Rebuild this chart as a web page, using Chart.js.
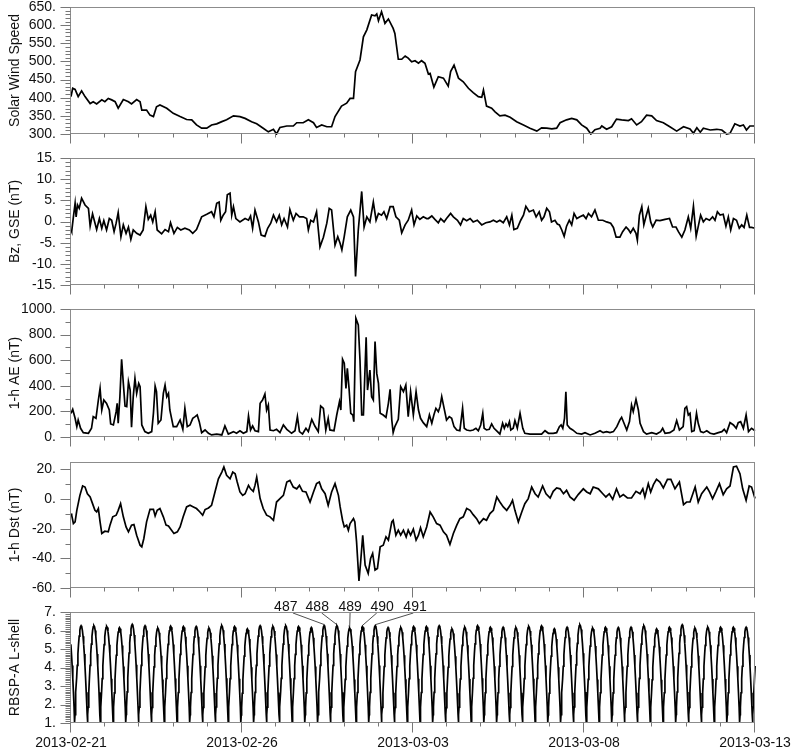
<!DOCTYPE html>
<html>
<head>
<meta charset="utf-8">
<script src="https://cdn.jsdelivr.net/npm/chart.js@4.4.1/dist/chart.umd.min.js"></script>
<style>
  html, body { margin: 0; padding: 0; background: #fff; }
  #wrap { position: relative; width: 794px; height: 755px; overflow: hidden; }
  #wrap canvas { position: absolute; left: 0; }
</style>
</head>
<body>
<div id="wrap">
  <canvas id="p1" width="794" height="150" style="top:0px"></canvas>
  <canvas id="p2" width="794" height="151" style="top:150px"></canvas>
  <canvas id="p3" width="794" height="153" style="top:300px"></canvas>
  <canvas id="p4" width="794" height="150" style="top:454px"></canvas>
  <canvas id="p5" width="794" height="165" style="top:590px"></canvas>
</div>
<script>
// ---- data (time in days since 2013-02-21 00:00) ----
const dayTicks = [0, 5, 10, 15, 20];
const dateLabels = ['2013-02-21', '2013-02-26', '2013-03-03', '2013-03-08', '2013-03-13'];

const swDay = [
  0.00,0.05,0.12,0.21,0.31,0.41,0.56,0.65,0.75,0.90,
  0.99,1.09,1.19,1.29,1.38,1.53,1.68,1.77,1.92,2.02,
  2.07,2.21,2.31,2.41,2.50,2.60,2.80,2.99,3.19,3.38,
  3.53,3.67,3.82,3.97,4.11,4.26,4.41,4.55,4.75,4.94,
  5.09,5.28,5.43,5.62,5.77,5.92,6.01,6.11,6.31,6.50,
  6.60,6.79,6.94,7.09,7.18,7.33,7.48,7.62,7.72,7.91,
  8.06,8.16,8.26,8.32,8.45,8.55,8.65,8.79,8.89,8.94,
  8.99,9.08,9.18,9.28,9.42,9.47,9.57,9.67,9.77,9.86,
  9.96,10.06,10.16,10.25,10.35,10.45,10.50,10.61,10.74,10.89,
  11.03,11.10,11.20,11.33,11.47,11.62,11.76,11.91,12.01,12.06,
  12.15,12.30,12.40,12.54,12.69,12.84,13.03,13.23,13.42,13.62,
  13.76,13.91,14.06,14.20,14.30,14.49,14.64,14.79,14.93,15.08,
  15.20,15.32,15.47,15.52,15.66,15.81,15.95,16.10,16.30,16.39,
  16.54,16.68,16.83,16.98,17.12,17.32,17.51,17.71,17.91,18.10,
  18.20,18.30,18.40,18.49,18.69,18.88,19.03,19.17,19.27,19.41,
  19.56,19.66,19.75,19.85,20.00];
const swSpeed = [
  403,426,423,403,419,403,384,389,383,394,
  389,398,394,389,371,395,389,383,395,389,
  366,366,352,348,375,380,371,357,348,340,
  339,325,316,316,325,328,334,339,350,348,
  343,334,328,316,306,313,300,318,322,322,
  331,331,339,331,318,325,320,320,348,377,
  385,398,398,472,504,568,587,628,626,631,
  612,637,605,617,591,577,506,506,515,509,
  499,502,495,502,495,465,467,429,458,454,
  432,472,490,454,444,426,414,403,401,421,
  377,371,361,350,352,346,334,325,316,308,
  317,316,314,316,331,339,343,339,325,316,
  300,312,316,322,313,320,341,339,337,342,
  325,334,352,350,337,331,320,308,320,314,
  302,317,305,316,311,313,311,300,302,328,
  322,325,311,322,322];

const bzDay = [
  0.00,0.02,0.07,0.12,0.15,0.19,0.24,0.31,0.41,0.51,
  0.56,0.63,0.75,0.83,0.90,0.96,1.04,1.12,1.19,1.26,
  1.32,1.38,1.46,1.53,1.61,1.68,1.75,1.82,1.92,2.02,
  2.11,2.19,2.26,2.33,2.39,2.46,2.52,2.65,2.75,2.85,
  2.91,3.01,3.11,3.21,3.33,3.46,3.56,3.67,3.82,3.97,
  4.11,4.18,4.26,4.33,4.38,4.45,4.52,4.57,4.65,4.70,
  4.75,4.82,4.94,5.09,5.19,5.25,5.31,5.38,5.48,5.56,
  5.67,5.75,5.84,5.92,6.01,6.09,6.16,6.23,6.33,6.40,
  6.50,6.58,6.68,6.79,6.89,6.94,7.01,7.09,7.18,7.28,
  7.38,7.48,7.55,7.62,7.72,7.80,7.87,7.92,7.99,8.08,
  8.18,8.26,8.32,8.40,8.50,8.57,8.65,8.74,8.84,8.92,
  8.99,9.08,9.15,9.23,9.33,9.42,9.50,9.60,9.67,9.77,
  9.86,9.96,10.03,10.11,10.20,10.30,10.40,10.45,10.55,10.64,
  10.74,10.81,10.91,10.98,11.10,11.18,11.30,11.39,11.47,11.57,
  11.67,11.76,11.88,12.01,12.13,12.25,12.35,12.45,12.54,12.64,
  12.74,12.82,12.89,12.95,13.05,13.15,13.23,13.30,13.40,13.52,
  13.60,13.69,13.76,13.83,13.91,13.99,14.05,14.15,14.22,14.28,
  14.35,14.42,14.49,14.57,14.64,14.71,14.79,14.88,14.98,15.06,
  15.13,15.22,15.32,15.42,15.55,15.66,15.78,15.86,15.94,16.05,
  16.13,16.23,16.30,16.36,16.44,16.52,16.56,16.62,16.69,16.75,
  16.81,16.88,16.95,17.01,17.11,17.22,17.37,17.50,17.59,17.69,
  17.76,17.86,17.95,18.05,18.12,18.20,18.28,18.35,18.41,18.49,
  18.57,18.67,18.76,18.83,18.90,18.98,19.07,19.15,19.22,19.29,
  19.37,19.46,19.54,19.61,19.68,19.76,19.84,19.90,20.00];
const bzValue = [
  -2.0,-2.4,1.1,4.3,1.1,3.9,3.1,5.5,3.9,3.1,
  -1.1,1.8,-1.9,0.7,-1.6,0.2,-2.0,0.7,0.3,-2.4,
  -0.4,2.1,-3.6,-0.8,-2.8,-1.3,-4.2,-2.0,-2.8,-3.2,
  -2.0,3.5,0.5,1.5,-0.1,2.3,-2.0,-2.9,-1.9,-2.4,
  -0.3,-2.8,-1.4,-2.0,-1.6,-2.0,-2.8,-1.9,1.1,1.7,
  2.3,1.1,4.3,4.6,0.3,1.5,2.3,6.3,6.7,1.5,
  3.5,0.7,-0.1,0.7,0.3,1.3,-1.6,2.7,-0.1,-3.2,
  -3.5,-1.6,-0.4,1.5,-0.1,1.5,-0.8,0.7,-1.3,2.8,
  0.3,1.9,1.1,1.1,0.7,-2.0,0.3,-0.1,2.3,-6.0,
  -3.7,-0.4,3.1,2.7,-5.6,-3.6,-5.2,-6.7,-3.5,1.1,
  2.7,1.1,-13.0,-2.0,7.1,-1.3,1.1,-0.1,4.6,0.3,
  1.9,1.5,2.3,0.7,3.5,3.5,1.1,0.3,-2.7,-0.8,
  0.3,2.7,-0.8,1.3,0.5,1.1,0.7,0.7,1.3,0.5,
  -0.3,0.7,-0.1,0.7,1.9,1.1,0.3,-0.8,0.7,0.2,
  0.7,-0.1,0.3,-0.8,-0.3,-0.1,0.3,-0.1,0.3,-0.3,
  1.1,-0.8,1.5,-1.9,-1.6,0.3,1.5,3.6,2.3,2.7,
  1.1,2.3,0.3,1.1,3.1,2.3,-0.1,0.3,-0.6,-0.8,
  -2.0,-3.5,-1.1,0.3,-0.8,1.9,0.7,1.1,1.5,0.7,
  1.9,1.1,2.7,0.3,0.3,-0.1,-0.4,-1.4,-3.7,-3.7,
  -2.4,-1.3,-1.9,-2.7,-1.6,-2.8,-4.4,1.5,3.5,-0.8,
  1.1,3.1,-0.1,-1.3,0.3,0.2,0.5,0.7,-1.3,-1.3,
  -2.4,-3.7,-2.0,1.1,-1.6,3.6,-3.5,-0.8,1.5,-0.1,
  0.7,0.3,1.1,0.3,2.3,1.5,1.7,-1.1,1.1,-2.0,
  0.7,0.3,-1.6,-0.8,-1.4,1.5,-1.4,-1.4,-1.6];

const aeDay = [
  0.00,0.05,0.12,0.17,0.21,0.28,0.36,0.51,0.60,0.65,
  0.73,0.80,0.85,0.90,0.96,1.04,1.12,1.16,1.24,1.32,
  1.35,1.38,1.43,1.48,1.53,1.58,1.63,1.68,1.73,1.77,
  1.82,1.87,1.92,1.98,2.02,2.07,2.16,2.26,2.36,2.41,
  2.46,2.50,2.55,2.63,2.70,2.75,2.80,2.85,2.89,2.99,
  3.09,3.19,3.27,3.33,3.40,3.48,3.56,3.63,3.69,3.75,
  3.82,3.92,4.02,4.11,4.26,4.41,4.50,4.60,4.75,4.84,
  4.94,5.04,5.14,5.19,5.25,5.31,5.38,5.48,5.53,5.60,
  5.67,5.72,5.77,5.82,5.92,6.01,6.11,6.21,6.31,6.45,
  6.55,6.62,6.68,6.77,6.87,6.94,7.04,7.13,7.23,7.30,
  7.38,7.45,7.52,7.57,7.69,7.77,7.85,7.89,7.94,7.99,
  8.04,8.08,8.13,8.18,8.24,8.27,8.33,8.40,8.45,8.50,
  8.55,8.63,8.67,8.74,8.79,8.84,8.89,8.94,8.99,9.04,
  9.13,9.21,9.28,9.33,9.38,9.42,9.47,9.57,9.64,9.72,
  9.79,9.86,9.93,10.01,10.09,10.16,10.22,10.30,10.40,10.48,
  10.55,10.61,10.67,10.74,10.79,10.84,10.91,10.98,11.06,11.13,
  11.20,11.28,11.37,11.45,11.50,11.57,11.67,11.76,11.84,11.91,
  11.98,12.04,12.08,12.15,12.23,12.30,12.37,12.47,12.54,12.62,
  12.67,12.72,12.77,12.82,12.86,12.93,12.98,13.05,13.13,13.21,
  13.27,13.42,13.62,13.76,13.86,13.96,14.10,14.20,14.28,14.33,
  14.38,14.43,14.47,14.51,14.59,14.67,14.79,14.93,15.03,15.18,
  15.32,15.47,15.56,15.66,15.76,15.86,15.96,16.05,16.10,16.17,
  16.25,16.33,16.39,16.44,16.52,16.59,16.64,16.74,16.83,16.98,
  17.12,17.24,17.30,17.37,17.51,17.63,17.71,17.79,17.90,17.95,
  18.00,18.05,18.10,18.15,18.22,18.29,18.34,18.41,18.49,18.59,
  18.69,18.80,18.93,19.03,19.10,19.17,19.27,19.37,19.45,19.51,
  19.58,19.66,19.74,19.81,19.90,20.00];
const aeValue = [
  185,216,146,81,133,68,34,29,68,159,
  146,289,380,211,289,263,211,102,94,198,
  263,107,315,607,419,242,237,432,367,76,
  315,458,341,419,393,94,42,29,42,185,
  398,354,107,133,341,406,315,341,211,81,
  81,133,60,224,81,94,146,159,172,120,
  34,55,29,16,23,16,86,23,42,29,
  49,29,42,164,55,86,49,42,263,289,
  336,211,250,55,49,60,34,94,60,29,
  49,159,42,23,68,42,138,86,42,242,
  224,55,146,55,49,172,276,211,607,576,
  380,536,380,185,172,120,927,875,602,172,
  172,779,367,523,315,289,745,497,419,185,
  172,154,263,372,133,34,81,138,393,354,
  406,159,354,172,354,211,146,112,81,172,
  107,172,224,198,237,315,224,133,159,146,
  81,55,49,224,68,55,49,55,68,49,
  94,185,68,55,60,102,68,42,23,107,
  68,102,81,120,55,68,128,68,185,68,
  29,23,23,23,49,29,29,34,81,94,
  68,146,354,94,68,55,29,23,34,16,
  29,49,34,42,34,42,81,133,154,107,
  55,120,250,198,294,211,107,42,23,34,
  23,42,68,29,34,55,128,55,81,224,
  237,172,185,42,49,185,107,42,34,49,
  29,23,34,42,60,34,112,94,68,112,
  120,68,172,42,68,49];

const dstDay = [
  0.00,0.02,0.07,0.12,0.17,0.26,0.34,0.41,0.48,0.56,
  0.63,0.70,0.75,0.80,0.85,0.90,0.99,1.09,1.14,1.22,
  1.32,1.38,1.45,1.53,1.61,1.68,1.77,1.84,1.92,2.02,
  2.07,2.13,2.21,2.31,2.41,2.46,2.52,2.60,2.70,2.78,
  2.85,2.94,3.01,3.11,3.19,3.28,3.38,3.48,3.58,3.67,
  3.77,3.85,3.92,4.02,4.11,4.21,4.31,4.41,4.47,4.55,
  4.65,4.73,4.80,4.86,4.94,5.02,5.09,5.19,5.25,5.33,
  5.38,5.43,5.53,5.62,5.72,5.82,5.92,6.01,6.11,6.21,
  6.31,6.40,6.50,6.60,6.68,6.77,6.87,6.99,7.09,7.18,
  7.26,7.33,7.43,7.52,7.62,7.72,7.82,7.87,7.94,7.99,
  8.06,8.11,8.16,8.26,8.30,8.35,8.42,8.47,8.53,8.60,
  8.69,8.76,8.82,8.89,8.96,9.04,9.13,9.21,9.28,9.38,
  9.42,9.50,9.57,9.64,9.72,9.80,9.86,9.93,10.01,10.09,
  10.16,10.22,10.30,10.40,10.50,10.59,10.69,10.79,10.89,10.98,
  11.08,11.18,11.28,11.37,11.47,11.57,11.67,11.76,11.86,11.94,
  12.06,12.15,12.25,12.35,12.45,12.54,12.64,12.74,12.84,12.91,
  12.98,13.08,13.18,13.27,13.37,13.47,13.57,13.66,13.79,13.89,
  14.01,14.10,14.20,14.30,14.40,14.49,14.59,14.71,14.83,14.98,
  15.08,15.18,15.27,15.42,15.55,15.64,15.74,15.84,15.95,16.05,
  16.15,16.27,16.39,16.52,16.64,16.72,16.78,16.88,16.95,17.03,
  17.12,17.22,17.32,17.44,17.54,17.66,17.79,17.91,18.00,18.10,
  18.20,18.25,18.34,18.44,18.59,18.67,18.76,18.86,18.96,19.07,
  19.17,19.27,19.37,19.46,19.56,19.64,19.74,19.83,19.90,20.00];
const dstValue = [
  -9.8,-10.9,-16.5,-15.4,-7.6,2.5,8.8,8.1,3.6,1.4,
  -3.1,-7.6,-8.7,-6.4,-15.4,-23.2,-21.7,-22.1,-17.6,-12.0,
  -10.9,-7.6,-3.1,-12.0,-18.8,-22.1,-17.6,-17.2,-24.4,-31.1,
  -32.2,-26.6,-15.4,-6.9,-6.9,-11.4,-7.6,-6.4,-12.0,-17.6,
  -18.1,-21.0,-23.2,-22.1,-18.8,-12.0,-5.3,-4.2,-5.3,-6.4,
  -8.7,-10.9,-7.1,-6.0,-4.2,4.8,13.7,18.2,21.6,16.0,
  13.7,18.2,17.1,11.5,4.8,2.5,3.6,9.2,6.9,5.2,
  9.2,14.8,0.3,-6.4,-10.9,-12.0,-14.3,-2.0,0.3,2.5,
  11.5,12.6,8.1,6.9,9.2,5.2,4.8,-2.0,4.8,10.4,
  11.5,6.9,3.6,-4.2,4.8,10.4,2.5,-5.3,-14.3,-18.8,
  -17.6,-21.0,-16.5,-13.2,-15.4,-28.9,-55.3,-42.3,-24.4,-44.5,
  -50.1,-40.1,-36.7,-47.9,-46.8,-32.2,-31.1,-25.5,-27.7,-15.4,
  -14.3,-24.4,-21.0,-24.4,-21.0,-25.5,-21.0,-24.4,-20.3,-27.7,
  -24.4,-19.4,-25.5,-18.8,-8.7,-12.0,-16.5,-17.6,-22.1,-24.4,
  -30.6,-23.2,-17.6,-13.2,-12.0,-6.4,-7.6,-10.5,-13.2,-16.5,
  -13.2,-14.3,-9.8,-7.6,1.4,-2.0,-5.3,-7.6,-4.2,-0.8,
  -7.6,-15.4,-8.7,-3.1,0.3,8.1,3.6,1.4,8.8,3.6,
  0.7,5.2,7.5,6.9,3.6,5.9,1.4,-0.8,3.0,6.9,
  4.8,3.6,8.1,6.9,3.6,1.4,3.6,-0.2,6.9,1.4,
  3.0,0.7,0.7,5.2,3.6,6.9,1.4,10.4,4.8,9.7,
  13.3,11.5,7.5,13.3,13.3,6.9,11.5,-3.8,-2.0,-2.0,
  4.8,8.1,-2.0,3.6,8.1,4.8,0.3,5.2,10.4,3.0,
  6.9,8.8,21.6,22.2,17.1,6.9,-0.8,8.8,8.1,0.3];

// RBSP-A orbit: perigee times (hours) and apogee L of each orbit in between
const lPerigeeHour = [
  -6.38,2.6,11.58,20.55,29.53,38.5,47.48,56.45,65.43,74.4,
  83.38,92.35,101.33,110.3,119.28,128.25,137.23,146.2,155.18,164.15,
  173.13,182.1,191.08,200.05,209.03,218.0,226.98,235.95,244.93,253.9,
  262.88,271.85,280.83,289.8,298.78,307.75,316.73,325.7,334.68,343.65,
  352.63,361.6,370.58,379.55,388.53,397.5,406.48,415.45,424.43,433.4,
  442.38,451.35,460.33,469.3,478.28,487.25];
const lApogee = [
  6.24,6.26,6.26,6.22,6.16,6.33,6.26,6.13,6.24,6.22,
  6.22,6.13,6.27,6.22,6.09,6.26,6.22,6.26,6.22,6.16,
  6.27,6.26,6.13,6.22,6.26,6.16,6.16,6.22,6.22,6.26,
  6.09,6.18,6.27,6.18,6.18,6.16,6.22,6.26,6.09,6.18,
  6.31,6.13,6.18,6.16,6.18,6.26,6.09,6.18,6.31,6.13,
  6.18,6.18,6.18,6.18,6.20];
const lPerigeeL = 1.05;
// shape of one pass, perigee -> apogee -> perigee
const orbitPhase = [0,0.025,0.05,0.1,0.15,0.2,0.25,0.3,0.35,0.4,0.45,0.5,
                    0.55,0.6,0.65,0.7,0.75,0.8,0.85,0.9,0.95,0.975,1];
const orbitShape = [0,0.078,0.156,0.309,0.454,0.588,0.707,0.809,0.891,0.951,0.988,1,
                    0.988,0.951,0.891,0.809,0.707,0.588,0.454,0.309,0.156,0.078,0];
const orbitNumbers = [487, 488, 489, 490, 491];
const orbitNumberOffset = 467;   // orbit number - index in lApogee

// ---- build points ----
function pairs(xs, ys) {
  const n = Math.min(xs.length, ys.length);
  const out = [];
  for (let i = 0; i < n; i++) out.push({x: xs[i], y: ys[i]});
  return out;
}
const lPoints = [];
for (let j = 0; j < lApogee.length && j + 1 < lPerigeeHour.length; j++) {
  const t0 = lPerigeeHour[j], t1 = lPerigeeHour[j + 1];
  orbitPhase.forEach((p, i) => {
    if (j > 0 && i === 0) return;
    lPoints.push({x: (t0 + p * (t1 - t0)) / 24, y: lPerigeeL + (lApogee[j] - lPerigeeL) * orbitShape[i]});
  });
}

Chart.defaults.font.family = "'Liberation Sans', Arial, Helvetica, sans-serif";
Chart.defaults.font.size = 14;
Chart.defaults.color = '#111';

// frame, ticks and minor ticks
const framePlugin = {
  id: 'frame',
  afterDraw(chart, args, opts) {
    const {ctx, chartArea: a} = chart;
    const xs = chart.scales.x, ys = chart.scales.y;
    ctx.save();
    ctx.strokeStyle = '#8c8c8c';
    ctx.lineWidth = 1;
    const L = Math.round(a.left) - 0.5, R = Math.round(a.right) - 0.5;
    const T = Math.round(a.top) + 0.5, B = Math.round(a.bottom) - 0.5;
    ctx.strokeRect(L, T, R - L, B - T);
    ctx.strokeStyle = '#777';
    const n = Math.floor((ys.max - ys.min) / opts.yMinor + 1e-6);
    for (let i = 0; i <= n; i++) {
      const v = ys.min + i * opts.yMinor;
      const major = ys.ticks.some(t => Math.abs(t.value - v) < 1e-6);
      const py = Math.round(ys.getPixelForValue(v)) + 0.5;
      ctx.beginPath();
      ctx.moveTo(L - (major ? 10 : 5), py);
      ctx.lineTo(L, py);
      ctx.stroke();
    }
    for (let d = xs.min; d <= xs.max; d++) {
      const major = dayTicks.includes(d);
      const px = Math.round(xs.getPixelForValue(d)) - 0.5;
      ctx.beginPath();
      ctx.moveTo(px, B);
      ctx.lineTo(px, B + (major ? 10 : 4));
      ctx.stroke();
    }
    ctx.restore();
  }
};

// orbit number labels on the L-shell panel
const orbitLabelDay = [6.28, 7.2, 8.16, 9.1, 10.06];
const orbitLeaderDay = [6.49, 7.33, 8.16, 8.94, 10.01];
const orbitPlugin = {
  id: 'orbits',
  afterDatasetsDraw(chart) {
    const {ctx, chartArea: a} = chart;
    const xs = chart.scales.x, ys = chart.scales.y;
    ctx.save();
    ctx.font = "14px 'Liberation Sans', Arial, sans-serif";
    ctx.fillStyle = '#111';
    ctx.strokeStyle = '#222';
    ctx.lineWidth = 0.8;
    ctx.textAlign = 'center';
    ctx.textBaseline = 'alphabetic';
    orbitNumbers.forEach((num, i) => {
      const j = num - orbitNumberOffset;
      const tA = (lPerigeeHour[j] + lPerigeeHour[j + 1]) / 2 / 24;
      const ax = xs.getPixelForValue(tA), ay = ys.getPixelForValue(lApogee[j]);
      ctx.fillText(String(num), xs.getPixelForValue(orbitLabelDay[i]), a.top - 1);
      ctx.beginPath();
      ctx.moveTo(xs.getPixelForValue(orbitLeaderDay[i]), a.top + 1);
      ctx.lineTo(ax, ay - 1);
      ctx.stroke();
    });
    ctx.restore();
  }
};

function panel(id, points, cfg) {
  return new Chart(document.getElementById(id), {
    type: 'line',
    data: { datasets: [{ data: points, borderColor: '#000', borderWidth: 1.7,
                         pointRadius: 0, tension: 0, clip: 1 }] },
    options: {
      responsive: false, animation: false, devicePixelRatio: 1,
      layout: { padding: { left: 0, right: 39, top: cfg.padTop, bottom: 0 } },
      plugins: { legend: { display: false }, tooltip: { enabled: false },
                 frame: { yMinor: cfg.minor } },
      scales: {
        x: {
          type: 'linear', min: 0, max: 20,
          grid: { display: false, drawTicks: false }, border: { display: false },
          afterBuildTicks: s => { s.ticks = dayTicks.map(v => ({ value: v })); },
          ticks: { display: !!cfg.dates, padding: 12, maxRotation: 0, autoSkip: false,
                   callback: v => dateLabels[dayTicks.indexOf(v)] },
          afterFit: s => { s.height = cfg.xh; s.paddingLeft = 0; s.paddingRight = 0; }
        },
        y: {
          min: cfg.min, max: cfg.max,
          grid: { display: false, drawTicks: false }, border: { display: false },
          afterBuildTicks: s => { s.ticks = cfg.ticks.map(v => ({ value: v })); },
          ticks: { padding: 15, autoSkip: false, callback: v => v + '.' },
          title: { display: true, text: cfg.title, padding: { top: 7, bottom: 0 } },
          afterFit: s => { s.width = 71; s.paddingTop = 0; s.paddingBottom = 0; }
        }
      }
    },
    plugins: cfg.orbits ? [framePlugin, orbitPlugin] : [framePlugin]
  });
}

panel('p1', pairs(swDay, swSpeed), { title: 'Solar Wind Speed', min: 300, max: 650, minor: 10,
  ticks: [300, 350, 400, 450, 500, 550, 600, 650], padTop: 7, xh: 16 });
panel('p2', pairs(bzDay, bzValue), { title: 'Bz, GSE (nT)', min: -15, max: 15, minor: 1,
  ticks: [-15, -10, -5, 0, 5, 10, 15], padTop: 8, xh: 16 });
panel('p3', pairs(aeDay, aeValue), { title: '1-h AE (nT)', min: 0, max: 1000, minor: 100,
  ticks: [0, 200, 400, 600, 800, 1000], padTop: 9, xh: 16 });
panel('p4', pairs(dstDay, dstValue), { title: '1-h Dst (nT)', min: -60, max: 25, minor: 10,
  ticks: [-60, -40, -20, 0, 20], padTop: 8, xh: 16 });
panel('p5', lPoints, { title: 'RBSP-A L-shell', min: 1, max: 7, minor: 0.1,
  ticks: [1, 2, 3, 4, 5, 6, 7], padTop: 22, xh: 32, dates: true, orbits: true });
</script>
</body>
</html>
